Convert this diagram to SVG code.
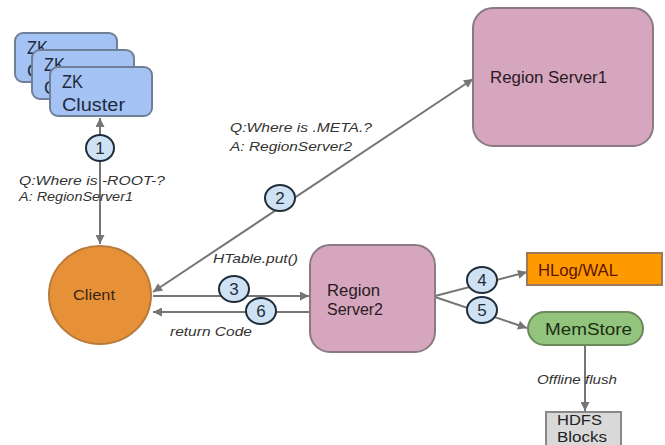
<svg xmlns="http://www.w3.org/2000/svg" width="665" height="445" viewBox="0 0 665 445">
<style>
text{font-family:"Liberation Sans",Arial,sans-serif}
.zk{fill:#A4C2F4;stroke:#6f7f96;stroke-width:2}
.zkt{font-size:18px;fill:#1c2a3c}
.rs{fill:#D5A6BD;stroke:#8a7a84;stroke-width:2}
.rst{font-size:16px;fill:#2a1a24}
.lab{font-size:13px;font-style:italic;fill:#333}
.num{fill:#CFE2F3;stroke:#1f2d3b;stroke-width:2}
.numt{font-size:17px;fill:#1f2d3b;text-anchor:middle}
.ln{stroke:#757575;stroke-width:2;fill:none}
</style>
<defs>
<marker id="ah" viewBox="0 0 10 10" refX="10" refY="5" markerWidth="11" markerHeight="9" markerUnits="userSpaceOnUse" orient="auto-start-reverse">
<path d="M0,0 L10,5 L0,10 z" fill="#757575"/>
</marker>
</defs>
<g id="connectors">
<line class="ln" x1="100" y1="118" x2="100" y2="244" marker-start="url(#ah)" marker-end="url(#ah)"/>
<line class="ln" x1="153" y1="292" x2="473" y2="79" marker-start="url(#ah)" marker-end="url(#ah)"/>
<line class="ln" x1="153" y1="296" x2="309" y2="296" marker-end="url(#ah)"/>
<line class="ln" x1="310" y1="312" x2="153" y2="312" marker-end="url(#ah)"/>
<line class="ln" x1="435" y1="296" x2="527" y2="272" marker-end="url(#ah)"/>
<line class="ln" x1="435" y1="297" x2="527" y2="328" marker-end="url(#ah)"/>
<line class="ln" x1="585" y1="345" x2="585" y2="411" marker-end="url(#ah)"/>
</g>
<g id="labels">
<text class="lab" x="19" y="185" textLength="146" lengthAdjust="spacingAndGlyphs">Q:Where is -ROOT-?</text>
<text class="lab" x="19" y="201" textLength="114" lengthAdjust="spacingAndGlyphs">A: RegionServer1</text>
<text class="lab" x="230" y="132" textLength="142" lengthAdjust="spacingAndGlyphs">Q:Where is .META.?</text>
<text class="lab" x="230" y="151" textLength="122" lengthAdjust="spacingAndGlyphs">A: RegionServer2</text>
<text class="lab" x="213" y="263" textLength="85" lengthAdjust="spacingAndGlyphs">HTable.put()</text>
<text class="lab" x="170" y="336" textLength="82" lengthAdjust="spacingAndGlyphs">return Code</text>
<text class="lab" x="537" y="384" textLength="80" lengthAdjust="spacingAndGlyphs">Offline flush</text>
</g>
<g id="zk3">
<rect class="zk" x="15" y="33" width="102" height="49" rx="8"/>
<text class="zkt" x="27" y="54" textLength="21" lengthAdjust="spacingAndGlyphs">ZK</text>
<text class="zkt" x="27" y="77">C</text>
</g>
<g id="zk2">
<rect class="zk" x="32" y="50" width="102" height="49" rx="8"/>
<text class="zkt" x="44" y="71" textLength="21" lengthAdjust="spacingAndGlyphs">ZK</text>
<text class="zkt" x="44" y="94">C</text>
</g>
<g id="zk1">
<rect class="zk" x="50" y="67" width="102" height="49" rx="8"/>
<text class="zkt" x="62" y="88" textLength="21" lengthAdjust="spacingAndGlyphs">ZK</text>
<text class="zkt" x="62" y="111" textLength="63" lengthAdjust="spacingAndGlyphs">Cluster</text>
</g>
<g id="client">
<ellipse cx="100" cy="295" rx="51" ry="49" fill="#E69138" stroke="#b87a3a" stroke-width="2"/>
<text x="73" y="300" font-size="14" fill="#3a2410" textLength="42" lengthAdjust="spacingAndGlyphs">Client</text>
</g>
<g id="rs1">
<rect class="rs" x="473" y="8" width="180" height="138" rx="20"/>
<text class="rst" x="490" y="83" textLength="117" lengthAdjust="spacingAndGlyphs">Region Server1</text>
</g>
<g id="rs2">
<rect class="rs" x="310" y="245" width="125" height="107" rx="20"/>
<text class="rst" x="327" y="296" textLength="53" lengthAdjust="spacingAndGlyphs">Region</text>
<text class="rst" x="327" y="315" textLength="56" lengthAdjust="spacingAndGlyphs">Server2</text>
</g>
<g id="hlog">
<rect x="527" y="253" width="135" height="32" fill="#FF9900" stroke="#9a7a5a" stroke-width="2"/>
<text x="538" y="276" font-size="16" fill="#5a1500" textLength="80" lengthAdjust="spacingAndGlyphs">HLog/WAL</text>
</g>
<g id="memstore">
<rect x="528" y="312" width="115" height="33" rx="16.5" fill="#93C47D" stroke="#6a8a5c" stroke-width="2"/>
<text x="545" y="335" font-size="16" fill="#1a2e12" textLength="87" lengthAdjust="spacingAndGlyphs">MemStore</text>
</g>
<g id="hdfs">
<rect x="546" y="412" width="75" height="40" fill="#D9D9D9" stroke="#888" stroke-width="2"/>
<text x="557" y="425" font-size="15" fill="#222" textLength="45" lengthAdjust="spacingAndGlyphs">HDFS</text>
<text x="557" y="442" font-size="15" fill="#222" textLength="50" lengthAdjust="spacingAndGlyphs">Blocks</text>
</g>
<g id="n1"><ellipse class="num" cx="100" cy="148" rx="14" ry="13"/><text class="numt" x="100" y="154">1</text></g>
<g id="n2"><ellipse class="num" cx="280" cy="198" rx="15" ry="13"/><text class="numt" x="280" y="204">2</text></g>
<g id="n3"><ellipse class="num" cx="234" cy="289" rx="15" ry="13"/><text class="numt" x="234" y="295">3</text></g>
<g id="n6"><ellipse class="num" cx="261" cy="311" rx="15" ry="13"/><text class="numt" x="261" y="317">6</text></g>
<g id="n4"><ellipse class="num" cx="482" cy="280" rx="15" ry="13"/><text class="numt" x="482" y="286">4</text></g>
<g id="n5"><ellipse class="num" cx="482" cy="310" rx="15" ry="13"/><text class="numt" x="482" y="316">5</text></g>
</svg>
